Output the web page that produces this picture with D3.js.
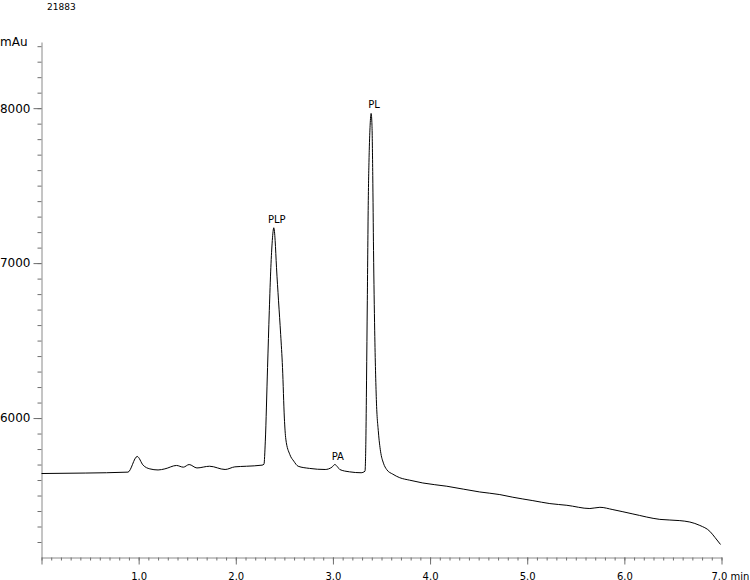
<!DOCTYPE html>
<html>
<head>
<meta charset="utf-8">
<script src="https://cdn.jsdelivr.net/npm/d3@7"></script>
<style>
  html, body { margin: 0; padding: 0; background: #fff; }
  svg { display: block; font-family: "DejaVu Sans", Verdana, sans-serif; }
</style>
</head>
<body>
<script>
  // chromatogram trace (retention time in min, signal in mAu)
  const times = [
    0.00, 0.45, 0.89, 0.985, 1.046, 1.115, 1.20, 1.27, 1.39, 1.46, 1.52, 1.60, 1.73, 1.89, 1.99, 2.11, 2.27, 2.29,
    2.304, 2.327, 2.345, 2.361, 2.376, 2.384, 2.391, 2.398, 2.405, 2.419, 2.440, 2.462, 2.481, 2.50, 2.515, 2.556, 2.597, 2.642,
    2.76, 2.92, 2.99, 3.019, 3.05, 3.07, 3.17, 3.29, 3.33,
    3.339, 3.346, 3.354, 3.364, 3.374, 3.383, 3.393, 3.402, 3.410, 3.418, 3.430, 3.447, 3.468, 3.490, 3.520, 3.554,
    3.616, 3.688, 3.79, 3.925, 4.172, 4.511, 4.718, 4.852, 5.058, 5.233, 5.408, 5.645, 5.748, 5.882, 6.088, 6.365,
    6.571, 6.674, 6.777, 6.880, 6.932, 6.99
  ];
  const absorbance = [
    5642, 5645, 5651, 5752, 5696, 5672, 5665, 5672, 5694, 5683, 5700, 5678, 5689, 5668, 5685, 5689, 5696, 5702,
    5851, 6326, 6693, 6973, 7146, 7205, 7228, 7205, 7146, 6973, 6757, 6540, 6326, 6000, 5864, 5765, 5722, 5689,
    5675, 5668, 5683, 5700, 5683, 5668, 5653, 5647, 5657,
    5851, 6240, 6757, 7405, 7728, 7890, 7966, 7890, 7566, 7081, 6563, 6120, 5910, 5786, 5709, 5667,
    5638, 5615, 5599, 5581, 5560, 5523, 5506, 5489, 5467, 5448, 5437, 5416, 5424, 5409, 5381, 5346,
    5338, 5329, 5307, 5269, 5230, 5184
  ];

  const peakNames = ["PLP", "PA", "PL"];
  const peakTimes = [2.391, 3.019, 3.393];

  const xMajorTicks = [0, 1, 2, 3, 4, 5, 6, 7];
  const yMajorTicks = [6000, 7000, 8000];
  const sampleId = "21883";
  const yUnit = "mAu";
  const xUnit = "min";

  const W = 750, H = 580;
  const x0 = 41.5, x1 = 721.5;
  const yTop = 42, yBottom = 557.5;

  const svg = d3.select("body").append("svg")
    .attr("width", W).attr("height", H)
    .attr("viewBox", [0, 0, W, H]);

  const x = d3.scaleLinear().domain([0, 7]).range([x0, x1]);
  const y = d3.scaleLinear().domain([5100, 8427]).range([yBottom, yTop]);

  const axisGrey = "#8a8a8a";
  const tickGrey = "#6e6e6e";

  // x axis: minor every 0.1 min, major every 1 min
  const gxMinor = svg.append("g")
    .attr("transform", `translate(0,${yBottom})`)
    .call(d3.axisBottom(x)
      .tickValues(d3.range(0, 71).map(i => i / 10))
      .tickSize(3).tickSizeOuter(0).tickFormat(""));
  gxMinor.select(".domain").attr("stroke", axisGrey);
  gxMinor.selectAll(".tick line").attr("stroke", tickGrey);

  const gxMajor = svg.append("g")
    .attr("transform", `translate(0,${yBottom})`)
    .call(d3.axisBottom(x)
      .tickValues(xMajorTicks)
      .tickSize(7).tickSizeOuter(0)
      .tickFormat(d => d === 0 ? "" : d3.format(".1f")(d)));
  gxMajor.select(".domain").remove();
  gxMajor.selectAll(".tick line").attr("stroke", tickGrey);
  gxMajor.selectAll(".tick text")
    .attr("y", 22).attr("dy", 0)
    .attr("font-size", 10)
    .attr("font-family", "DejaVu Sans, Verdana, sans-serif")
    .attr("fill", "#000");
  // last label carries the unit, as on the instrument printout
  gxMajor.selectAll(".tick").filter(d => d === 7).select("text")
    .attr("text-anchor", "start").attr("x", -10.5)
    .text(`7.0 ${xUnit}`);

  // y axis: minor every 100, labelled every 1000
  const gyMinor = svg.append("g")
    .attr("transform", `translate(${x0},0)`)
    .call(d3.axisLeft(y)
      .tickValues(d3.range(5200, 8401, 100))
      .tickSize(4).tickSizeOuter(0).tickFormat(""));
  gyMinor.select(".domain").attr("stroke", axisGrey);
  gyMinor.selectAll(".tick line").attr("stroke", tickGrey);

  const gyMajor = svg.append("g")
    .attr("transform", `translate(${x0},0)`)
    .call(d3.axisLeft(y)
      .tickValues(yMajorTicks)
      .tickSize(8).tickPadding(3).tickSizeOuter(0)
      .tickFormat(d3.format("d")));
  gyMajor.select(".domain").remove();
  gyMajor.selectAll(".tick line").attr("stroke", tickGrey);
  gyMajor.selectAll(".tick text")
    .attr("font-size", 12)
    .attr("font-family", "DejaVu Sans, Verdana, sans-serif")
    .attr("fill", "#000");

  svg.append("text")
    .attr("x", 0).attr("y", 46)
    .attr("font-size", 12)
    .text(yUnit);

  svg.append("text")
    .attr("x", 47).attr("y", 10)
    .attr("font-size", 9)
    .text(sampleId);

  // trace
  const pts = times.map((t, i) => [t, absorbance[i]]);
  const line = d3.line()
    .x(d => x(d[0]))
    .y(d => y(d[1]))
    .curve(d3.curveMonotoneX);

  svg.append("path")
    .datum(pts)
    .attr("fill", "none")
    .attr("stroke", "#000")
    .attr("stroke-width", 1)
    .attr("d", line);

  // peak names above apex
  peakNames.forEach((name, i) => {
    const k = d3.minIndex(times, t => Math.abs(t - peakTimes[i]));
    svg.append("text")
      .attr("x", x(times[k]) + 3)
      .attr("y", y(absorbance[k]) - 5)
      .attr("text-anchor", "middle")
      .attr("font-size", 10)
      .text(name);
  });
</script>
</body>
</html>
